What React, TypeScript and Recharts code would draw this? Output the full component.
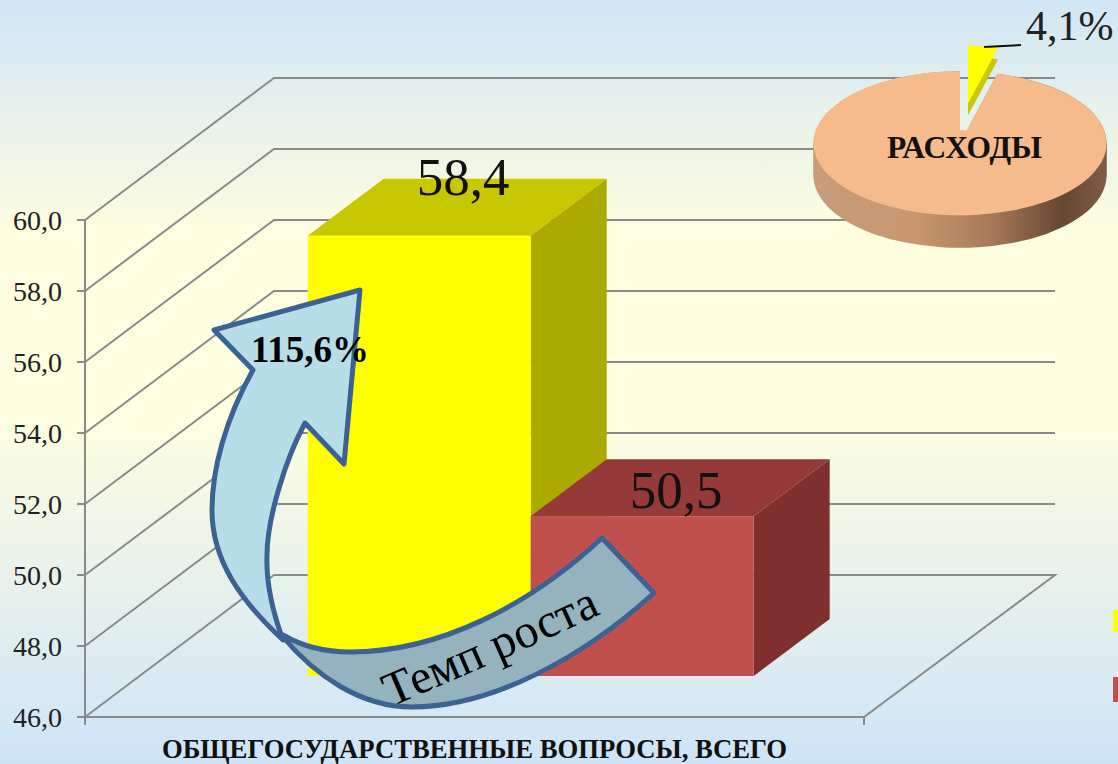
import { BarChart, Bar, XAxis, YAxis, CartesianGrid, LabelList, PieChart, Pie, Cell } from 'recharts'

const categories = ['ОБЩЕГОСУДАРСТВЕННЫЕ ВОПРОСЫ, ВСЕГО']
const currentValues = [58.4]
const previousValues = [50.5]
const yTicks = [46, 48, 50, 52, 54, 56, 58, 60]
const shareNames = ['Прочие расходы', 'Общегосударственные вопросы']
const shareValues = [95.9, 4.1]
const sideSteps = [0, 6, 12, 18, 24, 30, 36, 42, 48, 54, 60, 66]

const chartData = categories.map((name, i) => ({
  name,
  current: currentValues[i],
  previous: previousValues[i],
}))
const pieData = shareNames.map((name, i) => ({ name, value: shareValues[i] }))

const SERIF = '"Liberation Serif", serif'
const GRID = '#8a8a8a'
const PLOT_BOTTOM = 717
// floor depth of the walls, and where the bars sit on the floor
const WALL_DX = 189
const WALL_DY = -142
const WALL_RIGHT = 1055
const BAR_DX = 56
const BAR_DY = -41
const CUBE_DX = 76
const CUBE_DY = -57

const comma = (v: number, digits = 1) => v.toFixed(digits).replace('.', ',')

function wallLine(props: any) {
  const { x1, y1, x2, y2 } = props
  const bx = x1 + WALL_DX
  const by = y1 + WALL_DY
  const isFloor = Math.abs(y1 - PLOT_BOTTOM) < 1
  let d = `M${x1},${y1} L${bx},${by} L${WALL_RIGHT},${by}`
  if (isFloor) d += ` L${x2},${y2} M${x1},${y1} L${x2},${y2} L${x2},${y2 + 8} M${x1},${y1} L${x1},${y1 + 8}`
  return <path key={`wall-${y1}`} d={d} fill="none" stroke={GRID} strokeWidth={2} />
}

function Cube(props: any) {
  const { x, y, width, height, fill, topFill, sideFill } = props
  const fx = x + BAR_DX
  const fy = y + BAR_DY
  const r = fx + width
  const b = fy + height
  return (
    <g>
      <polygon points={`${fx},${fy} ${fx + CUBE_DX},${fy + CUBE_DY} ${r + CUBE_DX},${fy + CUBE_DY} ${r},${fy}`} fill={topFill} />
      <polygon points={`${r},${fy} ${r + CUBE_DX},${fy + CUBE_DY} ${r + CUBE_DX},${b + CUBE_DY} ${r},${b}`} fill={sideFill} />
      <rect x={fx} y={fy} width={width} height={height} fill={fill} />
    </g>
  )
}

const valueLabel = (dx: number, dy: number) => (props: any) => {
  const { x, y, width, value } = props
  return (
    <text x={x + BAR_DX + width / 2 + dx} y={y + BAR_DY + dy} textAnchor="middle" fontFamily={SERIF} fontSize={53} fill="#111">
      {comma(value)}
    </text>
  )
}

export default function App() {
  return (
    <div
      style={{
        position: 'absolute',
        left: 0,
        top: 0,
        width: 1118,
        height: 764,
        overflow: 'hidden',
        background: 'linear-gradient(180deg, #d0e6f5 0%, #fdfde0 30%, #fefee0 55%, #cde4f8 100%)',
      }}
    >
      <div style={{ position: 'absolute', left: 0, top: 0 }}>
        <BarChart
          width={1118}
          height={764}
          data={chartData}
          margin={{ top: 220, right: 254, bottom: 0, left: 0 }}
          barCategoryGap="21.4%"
          barGap={0}
        >
          <CartesianGrid vertical={false} horizontal={wallLine} />
          <XAxis
            dataKey="name"
            height={47}
            interval={0}
            axisLine={false}
            tickLine={false}
            tickSize={0}
            tickMargin={22}
            tick={{ fontFamily: SERIF, fontSize: 26.7, fontWeight: 700, fill: '#111' }}
          />
          <YAxis
            width={85}
            domain={[46, 60]}
            ticks={yTicks}
            interval={0}
            tickFormatter={(v) => comma(v)}
            axisLine={{ stroke: GRID, strokeWidth: 2 }}
            tickLine={{ stroke: GRID, strokeWidth: 2 }}
            tickSize={8}
            tickMargin={15}
            tick={{ fontFamily: SERIF, fontSize: 28, fill: '#222' }}
          />
          <Bar
            dataKey="current"
            fill="#ffff00"
            isAnimationActive={false}
            shape={(p: any) => <Cube {...p} fill="#ffff00" topFill="#c8c800" sideFill="#aaaa00" />}
          >
            <LabelList dataKey="current" content={valueLabel(44, -41)} />
          </Bar>
          <Bar
            dataKey="previous"
            fill="#c0504d"
            isAnimationActive={false}
            shape={(p: any) => <Cube {...p} fill="#c0504d" topFill="#953a38" sideFill="#7f302e" />}
          >
            <LabelList dataKey="previous" content={valueLabel(34, -8)} />
          </Bar>
        </BarChart>
      </div>

      {/* pie is flattened with a transform to get the tilted look */}
      <div style={{ position: 'absolute', left: 760, top: 44.7, transformOrigin: '0 0', transform: 'scaleY(0.4915)' }}>
        <PieChart width={400} height={440} margin={{ top: 0, right: 0, bottom: 0, left: 0 }}>
          <defs>
            <linearGradient id="pieSide" x1="0" y1="0" x2="1" y2="0">
              <stop offset="0%" stopColor="#c79c7a" />
              <stop offset="35%" stopColor="#c8976f" />
              <stop offset="60%" stopColor="#a87a58" />
              <stop offset="85%" stopColor="#664733" />
              <stop offset="100%" stopColor="#7d5d46" />
            </linearGradient>
          </defs>
          {sideSteps.map((step) => (
            <Pie
              key={step}
              data={pieData}
              dataKey="value"
              cx={200}
              cy={200 + step}
              outerRadius={146.5}
              startAngle={90}
              endAngle={450}
              stroke="none"
              isAnimationActive={false}
            >
              <Cell fill="url(#pieSide)" />
              <Cell fill="none" />
            </Pie>
          ))}
          <Pie data={pieData} dataKey="value" cx={208} cy={143} outerRadius={118} startAngle={90} endAngle={450} stroke="none" isAnimationActive={false}>
            <Cell fill="none" />
            <Cell fill="#c8c800" />
          </Pie>
          <Pie data={pieData} dataKey="value" cx={208} cy={119} outerRadius={118} startAngle={90} endAngle={450} stroke="none" isAnimationActive={false}>
            <Cell fill="none" />
            <Cell fill="#ffff00" />
          </Pie>
          <Pie data={pieData} dataKey="value" cx={200} cy={200} outerRadius={146.5} startAngle={90} endAngle={450} stroke="none" isAnimationActive={false}>
            <Cell fill="#f6bb8c" />
            <Cell fill="none" />
          </Pie>
          {/* closes the bottom of the notch, the slice apex sits above the pie centre */}
          <Pie data={pieData} dataKey="value" cx={201} cy={200} outerRadius={27} startAngle={90} endAngle={450} stroke="none" isAnimationActive={false}>
            <Cell fill="#f6bb8c" />
            <Cell fill="#f6bb8c" />
          </Pie>
        </PieChart>
      </div>

      <div style={{ position: 'absolute', left: 1113, top: 610, width: 5, height: 22, background: '#ffff00' }} />
      <div style={{ position: 'absolute', left: 1113, top: 677, width: 5, height: 25, background: '#c0504d' }} />

      <svg width={1118} height={764} style={{ position: 'absolute', left: 0, top: 0 }}>
        <path d="M984,47 L1021,45" stroke="#111" strokeWidth={2} />
        <text x={1026} y={40} fontFamily={SERIF} fontSize={42} fill="#222">{`${comma(shareValues[1])}%`}</text>
        <text x={964.5} y={158} textAnchor="middle" fontFamily={SERIF} fontWeight={700} fontSize={31.5} fill="#111">РАСХОДЫ</text>

        {/* growth arrow */}
        <path
          d="M360,290 L214,330 L253,370 C225,420 212,470 212,510 C212,560 240,600 283,640 C272,610 266,580 267,555 C267,520 285,460 305,423 L344,464 Z"
          fill="#b7dde8"
          stroke="#3c6293"
          strokeWidth={5}
          strokeLinejoin="round"
        />
        <path
          d="M283,635 C305,648 330,652 350,652 C440,652 530,605 602,538 L654,593 C580,660 490,707 412,707 C360,707 315,675 283,637 Z"
          fill="#95b3be"
          stroke="#3c6293"
          strokeWidth={5}
          strokeLinejoin="round"
        />
        <text x={310} y={362} textAnchor="middle" fontFamily={SERIF} fontWeight={700} fontSize={37} fill="#000">
          {`${comma((currentValues[0] / previousValues[0]) * 100)}%`}
        </text>
        <path id="growthCaption" d="M391,707 C444,684 544,642 630,600" fill="none" />
        <text fontFamily={SERIF} fontSize={48} fill="#000">
          <textPath href="#growthCaption">Темп роста</textPath>
        </text>
      </svg>
    </div>
  )
}
